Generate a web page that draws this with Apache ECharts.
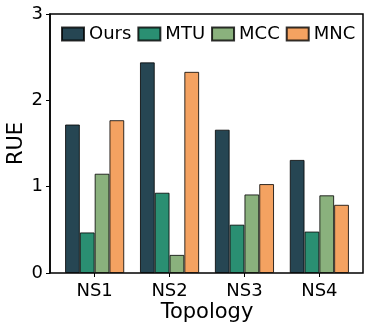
<!DOCTYPE html>
<html>
<head>
<meta charset="utf-8">
<script src="https://cdn.jsdelivr.net/npm/echarts@6/dist/echarts.min.js"></script>
<style>
    html, body { margin: 0; padding: 0; background: #fff; }
    #chart { width: 374px; height: 331px; }
</style>
</head>
<body>
<div id="chart"></div>
<script>
var categories = ['NS1', 'NS2', 'NS3', 'NS4'];
var seriesNames = ['Ours', 'MTU', 'MCC', 'MNC'];
var oursData = [1.72, 2.44, 1.66, 1.31];
var mtuData = [0.47, 0.93, 0.56, 0.48];
var mccData = [1.15, 0.21, 0.91, 0.90];
var mncData = [1.77, 2.33, 1.03, 0.79];
var yTicks = [0, 1, 2, 3];

var colors = ['#264653', '#2a8f72', '#8ab17d', '#f4a261'];
var font = 'DejaVu Sans';

/**
 * 渲染柱状图
 */
function setChart() {
    var myChart = echarts.init(document.getElementById('chart'));
    var allData = [oursData, mtuData, mccData, mncData];
    var option = {
        animation: false,
        textStyle: {fontFamily: font, color: '#000'},
        legend: {
            data: seriesNames,
            icon: 'rect',
            left: 61,
            top: 25,
            padding: 0,
            itemWidth: 22,
            itemHeight: 13,
            itemGap: 6,
            textStyle: {fontFamily: font, fontSize: 18, color: '#000'}
        },
        grid: [
            // 外框
            {left: 50, right: 11, top: 14, bottom: 58, outerBoundsMode: 'none', show: true, borderColor: '#000', borderWidth: 1.5, backgroundColor: 'transparent'},
            // 柱子所在区域
            {left: 57.2, right: 17.2, top: 14, bottom: 58, outerBoundsMode: 'none'}
        ],
        xAxis: [
            {type: 'value', gridIndex: 0, show: false, min: 0, max: 1},
            {
                type: 'category',
                gridIndex: 1,
                data: categories,
                axisLine: {show: false},
                axisTick: {show: true, alignWithLabel: true, length: 4, lineStyle: {color: '#000', width: 1}},
                axisLabel: {fontFamily: font, fontSize: 18, color: '#000', margin: 9},
                name: 'Topology',
                nameLocation: 'middle',
                nameGap: 29,
                nameMoveOverlap: false,
                nameTextStyle: {fontFamily: font, fontSize: 21, color: '#000'}
            }
        ],
        yAxis: [
            {
                type: 'value',
                gridIndex: 0,
                min: yTicks[0],
                max: yTicks[yTicks.length - 1],
                interval: 1,
                splitLine: {show: false},
                axisLine: {show: true, lineStyle: {color: '#000', width: 1.5}},
                axisTick: {show: true, length: 4, lineStyle: {color: '#000', width: 1}},
                axisLabel: {fontFamily: font, fontSize: 18, color: '#000', margin: 7},
                name: 'RUE',
                nameLocation: 'middle',
                nameGap: 23,
                nameMoveOverlap: false,
                nameTextStyle: {fontFamily: font, fontSize: 21, color: '#000'}
            },
            {type: 'value', gridIndex: 1, min: 0, max: 3, show: false}
        ],
        series: function () {
            var serie = [];
            for (var i = 0; i < seriesNames.length; i++) {
                serie.push({
                    name: seriesNames[i],
                    type: 'bar',
                    xAxisIndex: 1,
                    yAxisIndex: 1,
                    barGap: 0,
                    barCategoryGap: '21%',
                    data: allData[i],
                    itemStyle: {color: colors[i], borderColor: 'rgba(0,0,0,0.8)', borderWidth: 1}
                });
            }
            return serie;
        }()
    };
    myChart.setOption(option);
}

setChart();
</script>
</body>
</html>
